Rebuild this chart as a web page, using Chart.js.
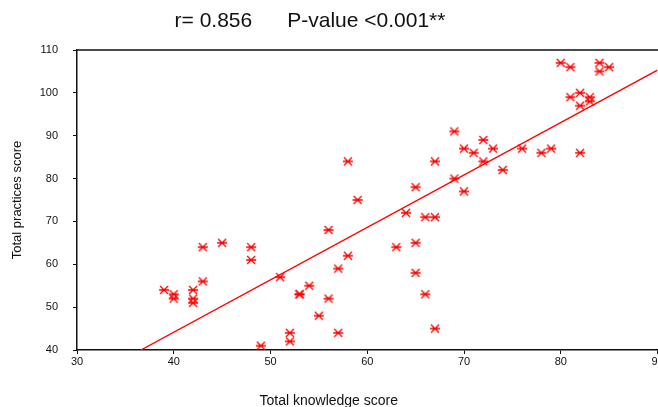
<!DOCTYPE html>
<html>
<head>
<meta charset="utf-8">
<script src="https://cdn.jsdelivr.net/npm/chart.js@4/dist/chart.umd.min.js"></script>
<style>
  html, body { margin: 0; padding: 0; background: #fff; overflow: hidden; }
  #wrap { width: 658px; height: 407px; overflow: hidden; position: relative; }
  #box { width: 700px; height: 410px; position: absolute; left: 0; top: 0; }
</style>
</head>
<body>
<div id="wrap"><div id="box"><canvas id="c"></canvas></div></div>
<script>
// Data
const knowledgeScores = [39,40,40,42,42,42,43,43,45,48,48,51,49,52,52,53,53,54,55,
  58,67,70,71,69,70,65,59,64,66,67,56,63,65,58,57,65,56,66,57,67,
  80,81,84,84,85,81,82,83,83,82,69,72,73,72,74,76,78,79,82];
const practicesScores = [54,53,52,54,52,51,64,56,65,64,61,57,41,44,42,53,53,55,48,
  84,84,87,86,80,77,78,75,72,71,71,68,64,65,62,59,58,52,53,44,45,
  107,106,107,105,106,99,100,99,98,97,91,89,87,84,82,87,86,87,86];
const fitX = [36.6, 90];
const fitY = [40, 105.3];
const xTicks = [30, 40, 50, 60, 70, 80, 90];
const yTicks = [40, 50, 60, 70, 80, 90, 100, 110];
const titleText = 'r= 0.856      P-value <0.001**';
const xTitle = 'Total knowledge score';
const yTitle = 'Total practices score';

const RED = '#ff0000';
const FONT = "'Liberation Sans', Arial, sans-serif";
const NARROW = "'Liberation Sans Narrow', 'Arial Narrow', 'Liberation Sans', Arial, sans-serif";

// asterisk marker
const star = document.createElement('canvas');
star.width = 12; star.height = 12;
(function () {
  const g = star.getContext('2d');
  g.strokeStyle = RED; g.lineWidth = 1.3;
  g.beginPath();
  g.moveTo(1, 6); g.lineTo(11, 6);
  g.moveTo(2, 2); g.lineTo(10, 10);
  g.moveTo(2, 10); g.lineTo(10, 2);
  g.stroke();
})();

const pts = knowledgeScores.map((k, i) => ({ x: k, y: practicesScores[i] }));
const fit = fitX.map((k, i) => ({ x: k, y: fitY[i] }));

const framePlugin = {
  id: 'frame',
  afterDraw(chart) {
    const { ctx, chartArea } = chart;
    ctx.save();
    ctx.strokeStyle = '#111';
    ctx.lineWidth = 1.5;
    ctx.beginPath();
    ctx.moveTo(chartArea.left, chartArea.top);
    ctx.lineTo(chart.width, chartArea.top);
    ctx.stroke();
    ctx.fillStyle = '#111';
    ctx.font = '21px ' + FONT;
    ctx.textAlign = 'center';
    ctx.textBaseline = 'middle';
    ctx.fillText(titleText, 310, 21);
    ctx.restore();
  }
};

new Chart(document.getElementById('c'), {
  type: 'scatter',
  data: {
    datasets: [
      {
        label: 'fit', data: fit, showLine: true, borderColor: RED, borderWidth: 1.4,
        pointRadius: 0, fill: false, order: 2
      },
      {
        label: 'scores', data: pts, pointStyle: star, pointRadius: 5, order: 1
      }
    ]
  },
  options: {
    responsive: true,
    maintainAspectRatio: false,
    animation: false,
    layout: { padding: { left: 0, right: 42.5, top: 50, bottom: 0 } },
    plugins: {
      legend: { display: false },
      tooltip: { enabled: false },
      title: { display: false },
      subtitle: {
        display: true, position: 'bottom', text: xTitle, color: '#111',
        font: { family: FONT, size: 14, weight: 'normal' }, padding: { top: 0, bottom: 0 }
      }
    },
    scales: {
      x: {
        type: 'linear', min: 30, max: 90,
        afterBuildTicks: s => { s.ticks = xTicks.map(v => ({ value: v })); },
        afterFit: s => { s.height = 43.2; },
        border: { display: true, color: '#111', width: 1.5 },
        grid: { display: true, drawOnChartArea: false, drawTicks: true, tickLength: 4, color: '#111', lineWidth: 1 },
        ticks: { color: '#111', font: { family: NARROW, size: 11 }, padding: 1, maxRotation: 0 }
      },
      y: {
        type: 'linear', min: 40, max: 110,
        afterBuildTicks: s => { s.ticks = yTicks.map(v => ({ value: v })); },
        afterFit: s => { s.width = 77; },
        border: { display: true, color: '#111', width: 1.5 },
        grid: { display: true, drawOnChartArea: false, drawTicks: true, tickLength: 4, color: '#111', lineWidth: 1 },
        ticks: { color: '#111', font: { family: NARROW, size: 11 }, padding: 15 },
        title: {
          display: true, text: yTitle, color: '#111',
          font: { family: FONT, size: 13 }, padding: { top: 10, bottom: 0 }
        }
      }
    }
  },
  plugins: [framePlugin]
});
</script>
</body>
</html>
